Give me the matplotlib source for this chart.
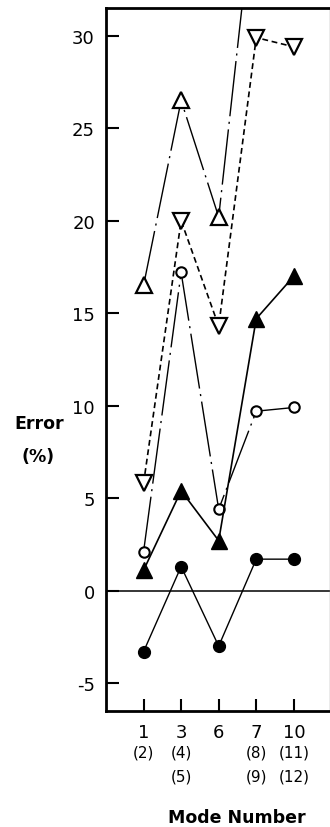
import numpy as np
import matplotlib
matplotlib.use("Agg")
import matplotlib.pyplot as plt
from matplotlib.transforms import blended_transform_factory

# Mode groups along the x axis
modes = ["1", "3", "6", "7", "10"]
mode_extra_1 = ["(2)", "(4)", "", "(8)", "(11)"]
mode_extra_2 = ["", "(5)", "", "(9)", "(12)"]

# Percentage error for each method at each mode group
err_open_up = [16.5, 26.5, 20.2, 38.5, np.nan]
err_open_down = [5.8, 20.0, 14.3, 29.9, 29.4]
err_open_circle = [2.1, 17.2, 4.4, 9.7, 9.9]
err_filled_up = [1.1, 5.4, 2.7, 14.7, 17.0]
err_filled_circle = [-3.3, 1.3, -3.0, 1.7, 1.7]

y_ticks = [-5, 0, 5, 10, 15, 20, 25, 30]

plt.rcParams["font.family"] = ["DejaVu Sans"]

W, H = 330, 828
fig = plt.figure(figsize=(W / 100, H / 100), dpi=100)
left_px, right_px, top_px, bottom_px = 106, 329.5, 9, 712
ax = fig.add_axes([left_px / W, 1 - bottom_px / H,
                   (right_px - left_px) / W, (bottom_px - top_px) / H])

x = np.arange(len(modes))

ax.plot(x, err_open_up, color="black", lw=1.0,
        linestyle=(0, (40, 4, 1.5, 4)),
        marker="^", ms=11, mfc="white", mec="black", mew=1.6, zorder=3)
ax.plot(x, err_open_down, color="black", lw=1.2,
        linestyle=(0, (3.5, 2.2)),
        marker="v", ms=11, mfc="white", mec="black", mew=1.6, zorder=3)
ax.plot(x, err_open_circle, color="black", lw=1.0,
        linestyle=(0, (40, 4, 1.5, 4)),
        marker="o", ms=7.5, mfc="white", mec="black", mew=1.5, zorder=4)
ax.plot(x, err_filled_up, color="black", lw=1.2, linestyle="-",
        marker="^", ms=11, mfc="black", mec="black", zorder=4)
ax.plot(x, err_filled_circle, color="black", lw=1.0, linestyle="-",
        marker="o", ms=8.5, mfc="black", mec="black", zorder=4)

ax.axhline(0, color="black", lw=1.1, zorder=2)

ax.set_xlim(-1.0, 4.95)
ax.set_ylim(-6.51, 31.5)

ax.set_yticks(y_ticks)
ax.set_yticklabels([str(v) for v in y_ticks], fontsize=13)
ax.set_xticks(x)
ax.set_xticklabels(modes, fontsize=13)
ax.tick_params(axis="both", direction="in", length=9, width=1.5, color="black")
ax.tick_params(axis="y", pad=8)
ax.tick_params(axis="x", pad=9)

for side in ["left", "top", "bottom"]:
    ax.spines[side].set_linewidth(2.0)
ax.spines["right"].set_linewidth(1.0)
ax.spines["right"].set_color("#9a9a9a")

# Secondary mode numbers beneath each group
trans = blended_transform_factory(ax.transData, fig.transFigure)
for i, (a, b) in enumerate(zip(mode_extra_1, mode_extra_2)):
    if a:
        ax.text(i, 1 - 753 / H, a, transform=trans, ha="center", va="center",
                fontsize=11)
    if b:
        ax.text(i, 1 - 777 / H, b, transform=trans, ha="center", va="center",
                fontsize=11)

fig.text(39 / W, 1 - 424 / H, "Error", ha="center", va="center",
         fontsize=12.5, fontweight="heavy")
fig.text(38 / W, 1 - 457 / H, "(%)", ha="center", va="center",
         fontsize=12.5, fontweight="heavy")
fig.text(237 / W, 1 - 818 / H, "Mode Number", ha="center", va="center",
         fontsize=12.5, fontweight="heavy")

fig.savefig("out.png", dpi=100)
